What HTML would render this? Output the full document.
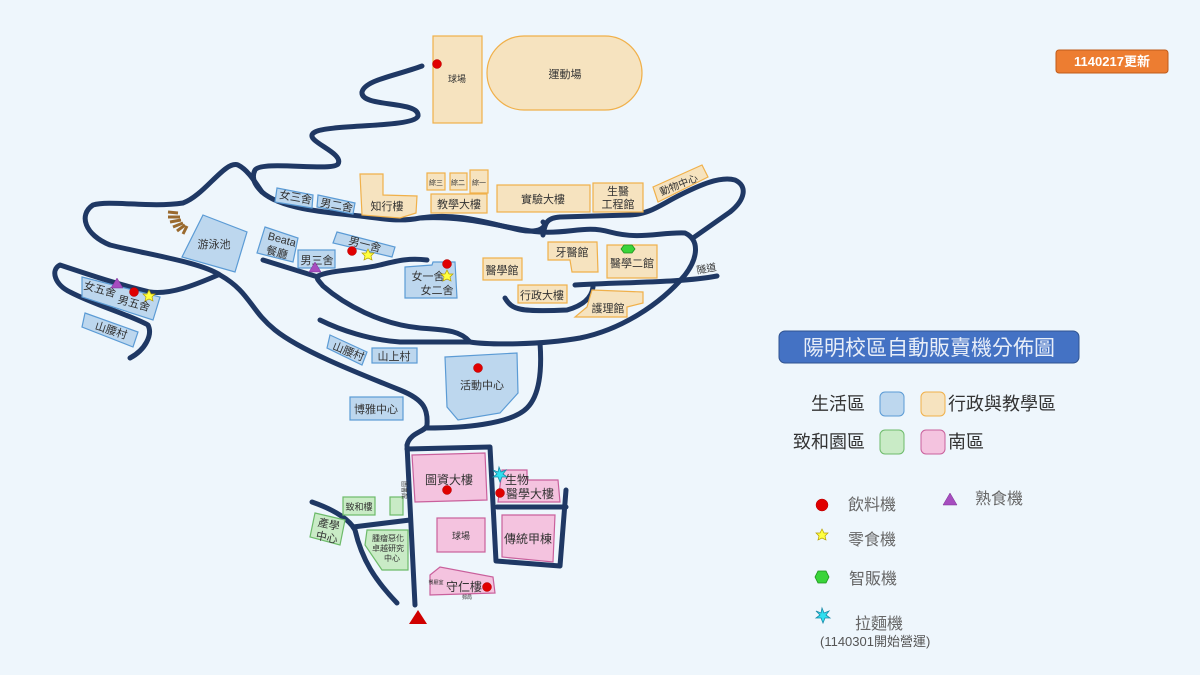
<!DOCTYPE html>
<html><head><meta charset="utf-8"><style>
html,body{margin:0;padding:0;background:#eef6fc;}
svg{display:block}
text{font-family:"Liberation Sans","Noto Sans CJK TC",sans-serif;fill:#333;}
</style></head><body>
<svg width="1200" height="675" viewBox="0 0 1200 675" xmlns="http://www.w3.org/2000/svg">
<rect width="1200" height="675" fill="#eef6fc"/>
<g fill="none" stroke="#1f3864" stroke-width="5" stroke-linecap="round" stroke-linejoin="round">
<!-- winding upper road -->
<path d="M422,66 C395,76 365,80 362,92 C360,108 420,100 418,116 C414,128 330,124 315,132 C300,140 345,152 338,164 C332,172 262,160 255,170 C250,180 258,188 262,192"/>
<!-- main upper loop road -->
<path d="M262,192 C280,208 320,212 360,216 C385,219 400,222 420,218 C460,212 490,224 520,230 C540,234 548,226 543,222"/>
<path d="M543,235 C545,225 545,218 560,217 L630,215 C650,214 660,205 680,195 C700,185 720,176 735,180 C748,186 745,200 730,212 L693,238"/>
<path d="M420,218 C470,215 510,230 540,232 C570,234 585,225 610,232 C640,240 660,232 685,233 C700,240 698,258 685,275 C660,305 620,330 580,338 C540,345 490,345 470,342 C460,330 445,330 420,328 C380,324 345,305 323,286 C318,280 316,278 318,277 L263,260"/>
<path d="M318,276 C330,270 360,270 380,265 C400,260 410,258 427,260"/>
<path d="M320,320 C340,330 370,340 400,342 L470,342"/>
<!-- big left road -->
<path d="M262,192 C255,182 248,170 238,165 C225,160 205,195 183,203 C150,208 110,200 93,205 C78,215 85,235 110,245 C150,255 200,262 220,275 C250,292 250,310 275,330 C300,350 350,370 400,390 C425,400 428,410 427,425 C426,432 410,432 407,445 L415,605"/>
<!-- 女五舍 loop -->
<path d="M218,275 C195,285 170,295 150,292 C120,285 90,275 60,265 C50,270 55,285 70,292 C95,305 130,315 148,325 C153,335 145,350 130,358"/>
<!-- 活動中心 right -->
<path d="M540,343 C542,370 540,395 527,408 C510,425 460,428 427,428"/>
<!-- tunnel -->
<path d="M575,285 C620,282 680,283 717,276"/>
<path d="M505,298 C512,310 520,312 567,310 C585,305 592,296 593,287"/>
<!-- south -->
<path d="M407,449 L490,447 L496,561 L560,566 L566,490"/>
<path d="M497,507 L566,507"/>
<path d="M312,502 C335,510 350,520 355,530 C362,560 375,580 397,603"/>
<path d="M353,527 L410,520"/>
</g>
<!-- stairs -->
<g stroke="#9a6a2e" stroke-width="3">
<line x1="168" y1="212" x2="178" y2="213"/><line x1="168" y1="217" x2="180" y2="217"/><line x1="170" y1="222" x2="181" y2="220"/><line x1="173" y1="227" x2="183" y2="223"/><line x1="177" y1="231" x2="185" y2="225"/><line x1="183" y1="234" x2="187" y2="226"/>
</g>
<!-- blue buildings -->
<g fill="#bdd7ee" stroke="#5b9bd5" stroke-width="1.2">
<polygon points="203,215 247,232 235,272 182,257"/>
<polygon points="265,227 298,238 293,262 257,253"/>
<rect x="298" y="250" width="37" height="18"/>
<polygon points="337,232 395,247 392,257 333,243"/>
<polygon points="277,188 313,195 312,208 275,202"/>
<polygon points="318,195 355,203 353,214 317,207"/>
<polygon points="405,267 432,265 433,262 455,262 457,298 405,298"/>
<polygon points="82,277 160,297 153,320 82,297"/>
<polygon points="85,313 138,332 133,347 82,327"/>
<polygon points="330,335 367,352 362,365 327,348"/>
<rect x="372" y="348" width="45" height="15"/>
<rect x="350" y="397" width="53" height="23"/>
<polygon points="445,357 517,353 518,393 500,413 458,420 447,407"/>
</g>
<!-- yellow -->
<g fill="#f6e3bf" stroke="#f0b04a" stroke-width="1.2">
<rect x="433" y="36" width="49" height="87"/>
<rect x="487" y="36" width="155" height="74" rx="37"/>
<polygon points="360,174 383,174 383,195 417,196 416,213 400,218 362,215"/>
<rect x="427" y="173" width="18" height="17"/>
<rect x="450" y="173" width="17" height="17"/>
<rect x="470" y="170" width="18" height="23"/>
<rect x="431" y="194" width="56" height="19"/>
<rect x="497" y="185" width="93" height="27"/>
<rect x="593" y="183" width="50" height="29"/>
<polygon points="653,187 702,165 708,177 658,202"/>
<rect x="483" y="258" width="39" height="22"/>
<polygon points="548,242 597,242 598,272 572,272 570,260 548,260"/>
<rect x="607" y="245" width="50" height="33"/>
<rect x="518" y="285" width="49" height="18"/>
<polygon points="592,290 643,292 643,303 627,307 627,317 575,317 587,307"/>
</g>
<!-- pink -->
<g fill="#f4c3df" stroke="#c9609c" stroke-width="1.2">
<polygon points="412,455 485,453 487,500 415,502"/>
<polygon points="502,470 527,470 527,480 558,480 560,502 498,502"/>
<rect x="437" y="518" width="48" height="34"/>
<polygon points="502,515 555,515 553,562 502,557"/>
<polygon points="430,575 440,567 493,577 495,593 430,595"/>
</g>
<!-- green -->
<g fill="#c9ebc6" stroke="#6dbb6a" stroke-width="1.2">
<rect x="343" y="497" width="32" height="18"/>
<rect x="390" y="497" width="13" height="18"/>
<polygon points="315,513 345,520 340,545 310,537"/>
<polygon points="367,530 408,530 408,570 382,570 365,545"/>
</g>
<!-- labels -->
<g font-size="11" text-anchor="middle">
<text x="457" y="82" font-size="9">球場</text>
<text x="565" y="78" font-size="11">運動場</text>
<text x="387" y="210" font-size="11">知行樓</text>
<text x="436" y="185" font-size="7">綜三</text><text x="458" y="185" font-size="7">綜二</text><text x="479" y="185" font-size="7">綜一</text>
<text x="459" y="208" font-size="11">教學大樓</text>
<text x="543" y="203" font-size="11">實驗大樓</text>
<text x="618" y="195" font-size="11">生醫</text><text x="618" y="208" font-size="11">工程館</text>
<text x="680" y="188" font-size="10" transform="rotate(-22 680 188)">動物中心</text>
<text x="295" y="201" font-size="11" transform="rotate(10 295 201)">女三舍</text>
<text x="336" y="209" font-size="11" transform="rotate(10 336 209)">男二舍</text>
<text x="214" y="248" font-size="11">游泳池</text>
<text x="281" y="243" font-size="11" transform="rotate(15 281 243)">Beata</text>
<text x="276" y="256" font-size="11" transform="rotate(15 276 256)">餐廳</text>
<text x="317" y="264" font-size="11">男三舍</text>
<text x="364" y="248" font-size="11" transform="rotate(14 364 248)">男一舍</text>
<text x="428" y="280" font-size="11">女一舍</text><text x="437" y="294" font-size="11">女二舍</text>
<text x="99" y="293" font-size="11" transform="rotate(15 99 293)">女五舍</text>
<text x="133" y="307" font-size="11" transform="rotate(15 133 307)">男五舍</text>
<text x="110" y="334" font-size="11" transform="rotate(18 110 334)">山腰村</text>
<text x="347" y="355" font-size="11" transform="rotate(22 347 355)">山腰村</text>
<text x="394" y="360" font-size="11">山上村</text>
<text x="376" y="413" font-size="11">博雅中心</text>
<text x="482" y="389" font-size="11">活動中心</text>
<text x="502" y="274" font-size="11">醫學館</text>
<text x="572" y="256" font-size="11">牙醫館</text>
<text x="632" y="267" font-size="11">醫學二館</text>
<text x="542" y="299" font-size="11">行政大樓</text>
<text x="608" y="312" font-size="11">護理館</text>
<text x="707" y="272" font-size="10" transform="rotate(-10 707 272)">隧道</text>
<text x="449" y="484" font-size="12">圖資大樓</text>
<text x="407" y="495" font-size="6" transform="rotate(90 407 490)">圖書館</text>
<text x="517" y="484" font-size="12">生物</text>
<text x="530" y="498" font-size="12">醫學大樓</text>
<text x="461" y="539" font-size="9">球場</text>
<text x="528" y="543" font-size="12">傳統甲棟</text>
<text x="464" y="591" font-size="12">守仁樓</text>
<text x="436" y="584" font-size="5">餐廳室</text>
<text x="467" y="599" font-size="5">郵局</text>
<text x="359" y="510" font-size="9">致和樓</text>
<text x="328" y="528" font-size="11" transform="rotate(12 328 528)">產學</text>
<text x="326" y="541" font-size="11" transform="rotate(12 326 541)">中心</text>
<text x="388" y="541" font-size="8">腫瘤惡化</text>
<text x="388" y="551" font-size="8">卓越研究</text>
<text x="392" y="561" font-size="8">中心</text>
</g>
<!-- markers -->
<g fill="#e00000" stroke="#b00000" stroke-width="0.5">
<circle cx="437" cy="64" r="4.5"/><circle cx="352" cy="251" r="4.5"/><circle cx="447" cy="264" r="4.5"/><circle cx="134" cy="292" r="4.5"/><circle cx="478" cy="368" r="4.5"/><circle cx="447" cy="490" r="4.5"/><circle cx="500" cy="493" r="4.5"/><circle cx="487" cy="587" r="4.5"/>
<circle cx="822" cy="505" r="6"/>
</g>
<g fill="#ffff40" stroke="#b8a000" stroke-width="0.7">
<polygon points="368,249 370,253 374,253 371,256 372,260 368,258 364,260 365,256 362,253 366,253"/>
<polygon points="447,270 449,274 453,274 450,277 451,281 447,279 443,281 444,277 441,274 445,274"/>
<polygon points="149,290 151,294 155,294 152,297 153,301 149,299 145,301 146,297 143,294 147,294"/>
<polygon points="822,529 824,533 828,533 825,536 826,540 822,538 818,540 819,536 816,533 820,533"/>
</g>
<g fill="#a64dbf" stroke="#7a2e91" stroke-width="0.5">
<polygon points="117,278 123,288 111,288"/><polygon points="315,262 321,272 309,272"/><polygon points="950,493 957,505 943,505"/>
</g>
<g fill="#3ad43a" stroke="#1c8f1c" stroke-width="0.8">
<polygon points="624,245 632,245 635,249 632,253 624,253 621,249"/>
<polygon points="818,571 826,571 829,577 826,583 818,583 815,577"/>
</g>
<g fill="#2fe0f0" stroke="#1a8aa8" stroke-width="0.8">
<polygon points="499,467 501,472 506,470 503,474 507,477 502,477 500,482 498,477 493,477 497,474 493,470 498,472"/>
<polygon points="822,608 824,613 829,611 826,615 830,618 825,618 823,623 821,618 816,618 820,615 816,611 821,613"/>
</g>
<polygon points="418,610 427,624 409,624" fill="#d00000"/>
<!-- badge -->
<rect x="1056" y="50" width="112" height="23" rx="3" fill="#ed7d31" stroke="#c05c1a"/>
<text x="1112" y="66" font-size="13" font-weight="bold" text-anchor="middle" style="fill:#fff">1140217更新</text>
<!-- legend -->
<rect x="779" y="331" width="300" height="32" rx="6" fill="#4472c4" stroke="#2f528f"/>
<text x="929" y="355" font-size="21" text-anchor="middle" style="fill:#e8eef8">陽明校區自動販賣機分佈圖</text>
<g font-size="18">
<text x="865" y="410" text-anchor="end">生活區</text>
<text x="948" y="410">行政與教學區</text>
<text x="865" y="448" text-anchor="end">致和園區</text>
<text x="948" y="448">南區</text>
</g>
<rect x="880" y="392" width="24" height="24" rx="5" fill="#bdd7ee" stroke="#5b9bd5"/>
<rect x="921" y="392" width="24" height="24" rx="5" fill="#f6e3bf" stroke="#f0b04a"/>
<rect x="880" y="430" width="24" height="24" rx="5" fill="#c9ebc6" stroke="#6dbb6a"/>
<rect x="921" y="430" width="24" height="24" rx="5" fill="#f4c3df" stroke="#c9609c"/>
<g font-size="16" style="fill:#666">
<text x="848" y="510" style="fill:#666">飲料機</text>
<text x="975" y="504" style="fill:#666">熟食機</text>
<text x="848" y="545" style="fill:#666">零食機</text>
<text x="849" y="584" style="fill:#666">智販機</text>
<text x="855" y="629" style="fill:#666">拉麵機</text>
<text x="820" y="646" font-size="13" style="fill:#555">(1140301開始營運)</text>
</g>
</svg>
</body></html>
